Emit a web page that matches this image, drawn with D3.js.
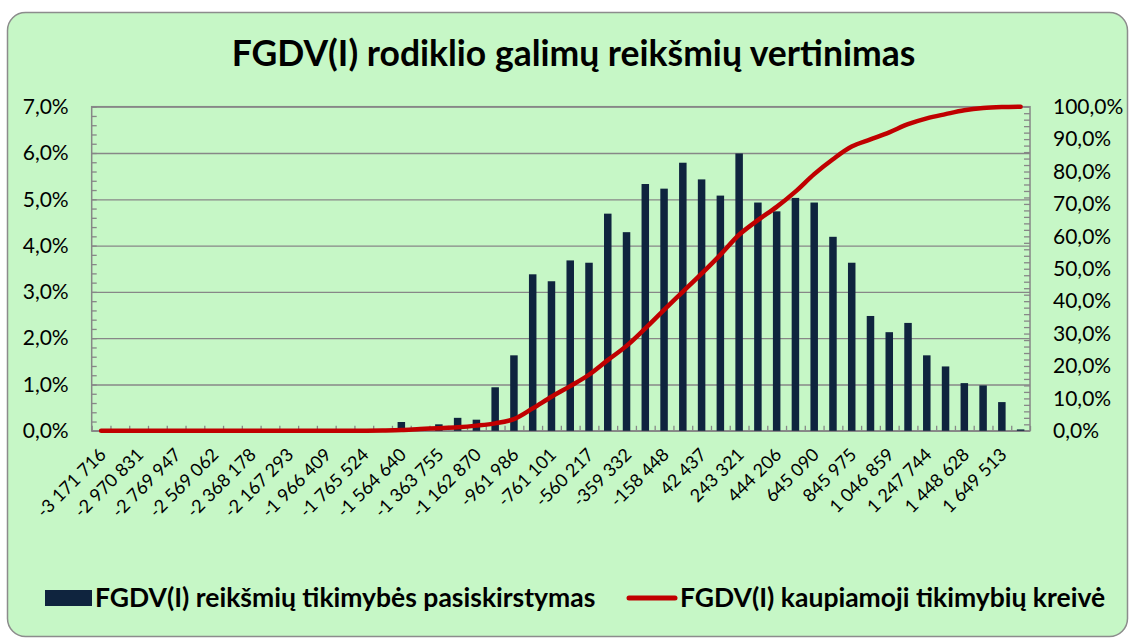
<!DOCTYPE html>
<html>
<head>
<meta charset="utf-8">
<script src="https://cdn.jsdelivr.net/npm/d3@7"></script>
<style>
  body { margin: 0; background: #ffffff; }
  text { font-family: Lato, "Open Sans", sans-serif; fill: #000; }
</style>
</head>
<body>
<div id="chart"></div>
<script>
//texts of the chart
var title = "FGDV(I) rodiklio galimų reikšmių vertinimas";
var barName = "FGDV(I) reikšmių tikimybės pasiskirstymas";
var lineName = "FGDV(I) kaupiamoji tikimybių kreivė";

//labels shown under every second bin
var binLabels = ["-3 171 716", "-2 970 831", "-2 769 947", "-2 569 062", "-2 368 178",
                 "-2 167 293", "-1 966 409", "-1 765 524", "-1 564 640", "-1 363 755",
                 "-1 162 870", "-961 986", "-761 101", "-560 217", "-359 332",
                 "-158 448", "42 437", "243 321", "444 206", "645 090",
                 "845 975", "1 046 859", "1 247 744", "1 448 628", "1 649 513"];

//probability of each of the 50 bins (%)
var probValues = [0, 0, 0, 0, 0, 0, 0, 0, 0, 0,
                  0, 0, 0, 0, 0, 0, 0.19, 0, 0.14, 0.28,
                  0.24, 0.94, 1.63, 3.38, 3.23, 3.68, 3.63, 4.69, 4.29, 5.33,
                  5.23, 5.79, 5.43, 5.08, 5.99, 4.93, 4.74, 5.03, 4.93, 4.19,
                  3.63, 2.48, 2.13, 2.33, 1.63, 1.39, 1.03, 0.98, 0.62, 0.03];

//cumulative probability curve (%)
var cumValues = [0, 0, 0, 0, 0, 0, 0, 0, 0, 0,
                 0, 0, 0, 0, 0, 0.1, 0.25, 0.55, 0.8, 1.1,
                 1.6, 2.3, 3.6, 6.9, 10.5, 13.8, 17.3, 21.8, 26.2, 31.6,
                 37.3, 42.9, 48.5, 54.3, 60.5, 65.0, 69.1, 73.8, 79.2, 83.8,
                 87.7, 89.9, 92.1, 94.6, 96.4, 97.7, 98.9, 99.6, 99.9, 100];

//axis ticks
var leftTicks = [0, 1, 2, 3, 4, 5, 6, 7];
var rightTicks = [0, 10, 20, 30, 40, 50, 60, 70, 80, 90, 100];

var width = 1129;
var height = 639;
var plot = {left: 91.7, right: 1030, top: 106.7, bottom: 430.8};
var gridColor = "#878787";
var barColor = "#0F243E";
var lineColor = "#C00000";

var svg = d3.select("#chart")
            .append("svg")
            .attr("width", width)
            .attr("height", height);

//chart area with rounded corners
svg.append("rect")
   .attr("x", 7.5)
   .attr("y", 12.5)
   .attr("width", 1120)
   .attr("height", 624)
   .attr("rx", 18)
   .style("fill", "#C6F7C6")
   .style("stroke", "#8C8C8C")
   .style("stroke-width", 1.5);

//title
svg.append("text")
   .text(title)
   .attr("x", 573.5)
   .attr("y", 66)
   .style("text-anchor", "middle")
   .style("font-weight", "bold")
   .style("font-size", "35.5px");

//scales
var xBand = d3.scaleBand()
              .domain(d3.range(probValues.length))
              .range([plot.left, plot.right])
              .paddingInner(0.6)
              .paddingOuter(0.3);
var xEdges = d3.scaleLinear()
               .domain([0, probValues.length])
               .range([plot.left, plot.right]);
var yLeft = d3.scaleLinear().domain([0, 7]).range([plot.bottom, plot.top]);
var yRight = d3.scaleLinear().domain([0, 100]).range([plot.bottom, plot.top]);

//horizontal gridlines
svg.append("g")
   .attr("class", "grid")
   .attr("transform", "translate(" + plot.left + ", 0)")
   .call(d3.axisLeft(yLeft)
           .tickValues(leftTicks)
           .tickSize(-(plot.right - plot.left))
           .tickFormat(""));

//left minor ticks (inside)
svg.append("g")
   .attr("class", "grid")
   .attr("transform", "translate(" + plot.left + ", 0)")
   .call(d3.axisLeft(yLeft)
           .tickValues(d3.range(0, 7.001, 0.2))
           .tickSize(-5)
           .tickFormat(""));

//right minor ticks (inside)
svg.append("g")
   .attr("class", "grid")
   .attr("transform", "translate(" + plot.right + ", 0)")
   .call(d3.axisRight(yRight)
           .tickValues(d3.range(0, 100.001, 2))
           .tickSize(-6)
           .tickFormat(""));

//bin edge ticks on the bottom axis
svg.append("g")
   .attr("class", "grid")
   .attr("transform", "translate(0, " + plot.bottom + ")")
   .call(d3.axisBottom(xEdges)
           .tickValues(d3.range(0, probValues.length + 1))
           .tickSize(-5)
           .tickFormat(""));

svg.selectAll(".grid .domain").remove();
svg.selectAll(".grid line")
   .style("stroke", gridColor)
   .style("stroke-width", 1.3);

//plot border
svg.append("rect")
   .attr("x", plot.left)
   .attr("y", plot.top)
   .attr("width", plot.right - plot.left)
   .attr("height", plot.bottom - plot.top)
   .style("fill", "none")
   .style("stroke", gridColor)
   .style("stroke-width", 1.5);

//percent formatter with comma decimal
function pct(d) {
  return d.toFixed(1).replace(".", ",") + "%";
}

//left axis labels
var leftAxis = svg.append("g")
   .attr("transform", "translate(" + plot.left + ", 0)")
   .call(d3.axisLeft(yLeft)
           .tickValues(leftTicks)
           .tickSize(0)
           .tickPadding(23)
           .tickFormat(pct));

//right axis labels
var rightAxis = svg.append("g")
   .attr("transform", "translate(" + plot.right + ", 0)")
   .call(d3.axisRight(yRight)
           .tickValues(rightTicks)
           .tickSize(0)
           .tickPadding(23)
           .tickFormat(pct));

//x axis labels on every second bin
var xAxis = svg.append("g")
   .attr("transform", "translate(0, " + plot.bottom + ")")
   .call(d3.axisBottom(xBand)
           .tickValues(d3.range(0, probValues.length, 2))
           .tickSize(0)
           .tickFormat(function(i) { return binLabels[i / 2]; }));

xAxis.selectAll("text")
     .attr("x", 0)
     .attr("y", 0)
     .attr("dy", 0)
     .attr("transform", "translate(6, 25) rotate(-45)")
     .style("text-anchor", "end")
     .style("font-size", "18px");

svg.selectAll(".domain").remove();
leftAxis.selectAll("text").style("font-size", "21px").style("font-family", "Lato, sans-serif");
rightAxis.selectAll("text").style("font-size", "21px").style("font-family", "Lato, sans-serif");
xAxis.selectAll("text").style("font-family", "Lato, sans-serif").attr("fill", "#000");

//bars
svg.append("g")
   .selectAll("rect")
   .data(probValues)
   .enter()
   .append("rect")
   .attr("x", function(d, i) { return xBand(i); })
   .attr("width", xBand.bandwidth())
   .attr("y", function(d) { return yLeft(d); })
   .attr("height", function(d) { return plot.bottom - yLeft(d); })
   .style("fill", barColor);

//cumulative curve
var lineGen = d3.line()
                .curve(d3.curveCatmullRom.alpha(0.5))
                .x(function(d, i) { return xBand(i) + xBand.bandwidth() / 2; })
                .y(function(d) { return yRight(d); });

svg.append("path")
   .attr("d", lineGen(cumValues))
   .style("fill", "none")
   .style("stroke", lineColor)
   .style("stroke-width", 4.5)
   .style("stroke-linejoin", "round")
   .style("stroke-linecap", "round");

//legend
svg.append("rect")
   .attr("x", 45)
   .attr("y", 590)
   .attr("width", 47)
   .attr("height", 16)
   .style("fill", barColor);
svg.append("text")
   .text(barName)
   .attr("x", 95)
   .attr("y", 607)
   .style("font-weight", "bold")
   .style("font-size", "26.5px");

svg.append("line")
   .attr("x1", 629)
   .attr("x2", 675)
   .attr("y1", 598)
   .attr("y2", 598)
   .style("stroke", lineColor)
   .style("stroke-width", 5)
   .style("stroke-linecap", "round");
svg.append("text")
   .text(lineName)
   .attr("x", 680)
   .attr("y", 607)
   .style("font-weight", "bold")
   .style("font-size", "26.5px");
</script>
</body>
</html>
